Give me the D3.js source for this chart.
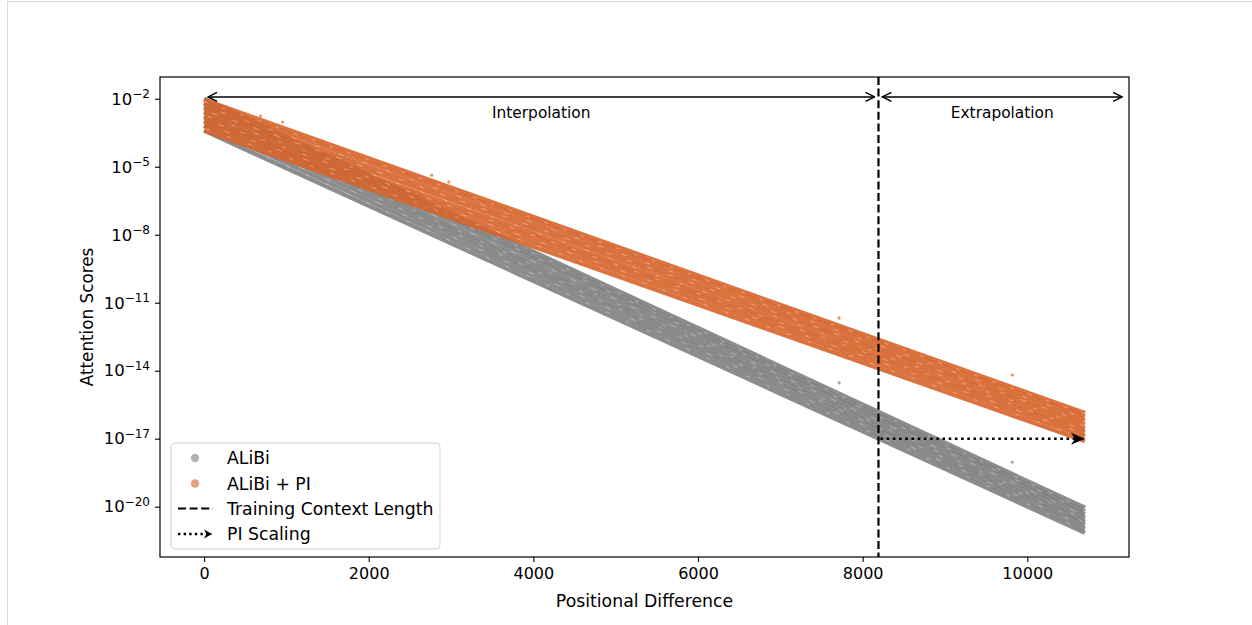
<!DOCTYPE html>
<html>
<head>
<meta charset="utf-8">
<script src="https://cdn.jsdelivr.net/npm/d3@7"></script>
<style>
  html, body { margin: 0; padding: 0; background: #fff; }
  body { width: 1252px; height: 625px; overflow: hidden; }
  .page { position: absolute; left: 7px; top: 1px; width: 1245px; height: 624px; border-top: 1px solid #d8d8d8; border-left: 1px solid #d8d8d8; }
  svg text { font-family: "DejaVu Sans", sans-serif; fill: #000; }
</style>
</head>
<body>
<div class="page"></div>
<svg id="chart" width="1252" height="625" style="position:absolute;left:0;top:0"></svg>
<script>
// positional difference range covered by every head
const positions = [0, 10700];
const trainLength = 8192;
const extrapolationEnd = 11200;

// log10 of the attention score at the first and last position, one entry per head
const alibiStartExp = [-2.0, -2.18, -2.35, -2.57, -2.76, -2.97, -3.18, -3.4];
const alibiEndExp = [-20.05, -20.2, -20.33, -20.5, -20.66, -20.8, -20.97, -21.15];
const alibiPiStartExp = [-2.05, -2.22, -2.42, -2.6, -2.82, -3.0, -3.2, -3.4];
const alibiPiEndExp = [-15.87, -16.02, -16.2, -16.37, -16.55, -16.72, -16.9, -17.1];

// stray points [position, log10 score]
const alibiOutliers = [[7714, -14.54], [9818, -18.03]];
const alibiPiOutliers = [[687, -2.76], [954, -3.03], [2766, -5.37], [2973, -5.67], [7714, -11.67], [9818, -14.19]];

const xTicks = [0, 2000, 4000, 6000, 8000, 10000];
const yTickExps = [-2, -5, -8, -11, -14, -17, -20];

const legendLabels = ['ALiBi', 'ALiBi + PI', 'Training Context Length', 'PI Scaling'];

const grey = '#808080';
const orange = '#d6642a';

const margin = { top: 77, left: 160 };
const w = 969;
const h = 480;

const svg = d3.select('#chart');

const defs = svg.append('defs');
defs.append('marker')
  .attr('id', 'open')
  .attr('viewBox', '-11 -6 12 12')
  .attr('refX', 0).attr('refY', 0)
  .attr('markerWidth', 12).attr('markerHeight', 12)
  .attr('markerUnits', 'userSpaceOnUse')
  .attr('orient', 'auto-start-reverse')
  .append('path')
    .attr('d', 'M-9,-4.5 L0,0 L-9,4.5')
    .attr('fill', 'none')
    .attr('stroke', '#000')
    .attr('stroke-width', 1.5);

const stealth = (id, len, half) => {
  defs.append('marker')
    .attr('id', id)
    .attr('viewBox', `${-len - 1} ${-half - 1} ${len + 2} ${2 * half + 2}`)
    .attr('refX', 0).attr('refY', 0)
    .attr('markerWidth', len + 2).attr('markerHeight', 2 * half + 2)
    .attr('markerUnits', 'userSpaceOnUse')
    .attr('orient', 'auto')
    .append('path')
      .attr('d', `M${-len},${-half} L0,0 L${-len},${half} L${-len * 0.7},0 Z`)
      .attr('fill', '#000');
};
stealth('stealth', 14, 6);
stealth('stealth-small', 8, 4.5);

const g = svg.append('g')
  .attr('transform', `translate(${margin.left}, ${margin.top})`);

const x = d3.scaleLinear()
  .domain([-535, 11235])
  .range([0, w]);

const y = d3.scaleLog()
  .domain([Math.pow(10, -22.22), Math.pow(10, -1.04)])
  .range([h, 0]);

const clip = defs.append('clipPath').attr('id', 'plot-clip');
clip.append('rect').attr('width', w).attr('height', h);

const plot = g.append('g').attr('clip-path', 'url(#plot-clip)');

const line = d3.line()
  .x((d) => x(d[0]))
  .y((d) => y(Math.pow(10, d[1])));

const drawBand = (startExp, endExp, outliers, color) => {
  const heads = startExp.map((s, i) => [[positions[0], s], [positions[1], endExp[i]]]);

  plot.append('g')
    .selectAll('path')
    .data(heads)
    .enter()
    .append('path')
      .attr('d', line)
      .attr('fill', 'none')
      .attr('stroke', color)
      .attr('stroke-width', 4.4)
      .attr('stroke-opacity', 0.9);

  // faint speckle between heads, like the gaps of the scatter
  plot.append('g')
    .selectAll('path')
    .data(heads.slice(1))
    .enter()
    .append('path')
      .attr('d', line)
      .attr('fill', 'none')
      .attr('stroke', '#fff')
      .attr('stroke-width', 0.8)
      .attr('stroke-opacity', 0.45)
      .attr('stroke-dasharray', (d, i) => `${4 + i % 3},${15 + (i * 5) % 9}`)
      .attr('stroke-dashoffset', (d, i) => i * 7)
      .attr('transform', 'translate(0, -2.2)');

  plot.append('g')
    .selectAll('circle')
    .data(outliers)
    .enter()
    .append('circle')
      .attr('cx', (d) => x(d[0]))
      .attr('cy', (d) => y(Math.pow(10, d[1])))
      .attr('r', 1.6)
      .attr('fill', color)
      .attr('opacity', 0.7);
};

drawBand(alibiStartExp, alibiEndExp, alibiOutliers, grey);
drawBand(alibiPiStartExp, alibiPiEndExp, alibiPiOutliers, orange);

// training context length
plot.append('line')
  .attr('x1', x(trainLength)).attr('x2', x(trainLength))
  .attr('y1', 0).attr('y2', h)
  .attr('stroke', '#000')
  .attr('stroke-width', 2.2)
  .attr('stroke-dasharray', '8,3.6');

// interpolation / extrapolation arrows
const arrowY = y(Math.pow(10, -1.92));
const arrows = [[0, trainLength], [trainLength, extrapolationEnd]];
g.append('g')
  .selectAll('line')
  .data(arrows)
  .enter()
  .append('line')
    .attr('x1', (d) => x(d[0]) + 4)
    .attr('x2', (d) => x(d[1]) - 4)
    .attr('y1', arrowY).attr('y2', arrowY)
    .attr('stroke', '#000')
    .attr('stroke-width', 1.5)
    .attr('marker-start', 'url(#open)')
    .attr('marker-end', 'url(#open)');

g.append('text')
  .attr('x', x(trainLength / 2))
  .attr('y', y(Math.pow(10, -2.63)))
  .attr('text-anchor', 'middle')
  .attr('dominant-baseline', 'central')
  .style('font-size', '15.4px')
  .text('Interpolation');

g.append('text')
  .attr('x', x((trainLength + extrapolationEnd) / 2))
  .attr('y', y(Math.pow(10, -2.63)))
  .attr('text-anchor', 'middle')
  .attr('dominant-baseline', 'central')
  .style('font-size', '15.4px')
  .text('Extrapolation');

// PI scaling arrow
const piY = y(1e-17);
g.append('line')
  .attr('x1', x(trainLength) + 2)
  .attr('x2', x(positions[1]))
  .attr('y1', piY).attr('y2', piY)
  .attr('stroke', '#000')
  .attr('stroke-width', 2.6)
  .attr('stroke-dasharray', '2.6,3.6')
  .attr('marker-end', 'url(#stealth)');

// axes
const xAxis = g.append('g')
  .attr('transform', `translate(0, ${h})`)
  .call(d3.axisBottom(x).tickValues(xTicks).tickSize(5).tickPadding(6).tickFormat(d3.format('d')));

const yAxis = g.append('g')
  .call(d3.axisLeft(y).tickValues(yTickExps.map((e) => Math.pow(10, e))).tickSize(5).tickPadding(6).tickFormat(''));

[xAxis, yAxis].forEach((a) => {
  a.select('.domain').remove();
  a.selectAll('.tick line').attr('stroke', '#000').attr('stroke-width', 1.1);
});
xAxis.selectAll('.tick text').style('font-size', '16px').attr('font-family', null);

yAxis.selectAll('.tick')
  .append('text')
    .attr('x', -10)
    .attr('dy', '0.32em')
    .attr('text-anchor', 'end')
    .style('font-size', '16.5px')
    .each(function (d) {
      const t = d3.select(this);
      t.append('tspan').text('10');
      t.append('tspan')
        .attr('dy', '-0.55em')
        .style('font-size', '12px')
        .text('\u2212' + Math.round(-Math.log10(d)));
    });

g.append('rect')
  .attr('width', w)
  .attr('height', h)
  .attr('fill', 'none')
  .attr('stroke', '#000')
  .attr('stroke-width', 1.2);

svg.append('text')
  .attr('x', margin.left + x(5350))
  .attr('y', 607)
  .attr('text-anchor', 'middle')
  .style('font-size', '17.3px')
  .text('Positional Difference');

svg.append('text')
  .attr('transform', `translate(93, ${margin.top + h / 2}) rotate(-90)`)
  .attr('text-anchor', 'middle')
  .style('font-size', '16.8px')
  .text('Attention Scores');

// legend
const legend = svg.append('g').attr('transform', 'translate(171, 443)');
legend.append('rect')
  .attr('width', 269)
  .attr('height', 106)
  .attr('rx', 4)
  .attr('fill', '#fff')
  .attr('fill-opacity', 0.85)
  .attr('stroke', '#d0d0d0');

const rowY = [15, 40.5, 65.5, 91];
legend.append('circle').attr('cx', 24).attr('cy', rowY[0]).attr('r', 4.2).attr('fill', grey).attr('opacity', 0.6);
legend.append('circle').attr('cx', 24).attr('cy', rowY[1]).attr('r', 4.2).attr('fill', orange).attr('opacity', 0.6);
legend.append('line')
  .attr('x1', 7).attr('x2', 42).attr('y1', rowY[2]).attr('y2', rowY[2])
  .attr('stroke', '#000').attr('stroke-width', 2.2).attr('stroke-dasharray', '8,3.6');
legend.append('line')
  .attr('x1', 7).attr('x2', 41).attr('y1', rowY[3]).attr('y2', rowY[3])
  .attr('stroke', '#000').attr('stroke-width', 2.4).attr('stroke-dasharray', '2.4,3.2')
  .attr('marker-end', 'url(#stealth-small)');

legend.selectAll('text.label')
  .data(legendLabels)
  .enter()
  .append('text')
    .attr('class', 'label')
    .attr('x', 56)
    .attr('y', (d, i) => rowY[i])
    .attr('dominant-baseline', 'central')
    .style('font-size', '17.3px')
    .text((d) => d);
</script>
</body>
</html>
